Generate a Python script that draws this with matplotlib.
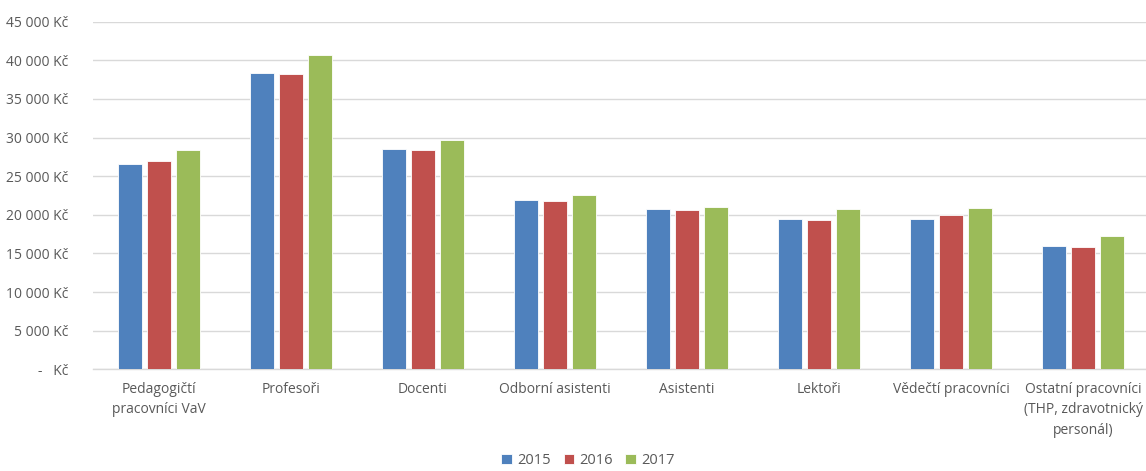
import matplotlib
matplotlib.use("Agg")
import matplotlib.pyplot as plt
import numpy as np

categories = ["Pedagogičtí\npracovníci VaV", "Profesoři", "Docenti", "Odborní asistenti",
              "Asistenti", "Lektoři", "Vědečtí pracovníci",
              "Ostatní pracovníci\n(THP, zdravotnický\npersonál)"]
years = ["2015", "2016", "2017"]
v2015 = [26540, 38360, 28480, 21920, 20750, 19420, 19460, 15960]
v2016 = [26970, 38230, 28350, 21750, 20620, 19290, 19980, 15790]
v2017 = [28390, 40690, 29650, 22530, 21050, 20710, 20880, 17260]
yticks = [0, 5000, 10000, 15000, 20000, 25000, 30000, 35000, 40000, 45000]
ytick_labels = ["-   Kč", "5 000 Kč", "10 000 Kč", "15 000 Kč", "20 000 Kč", "25 000 Kč",
                "30 000 Kč", "35 000 Kč", "40 000 Kč", "45 000 Kč"]
colors = ["#4F81BD", "#C0504D", "#9BBB59"]

plt.rcParams['font.family'] = ['Open Sans', 'DejaVu Sans']
txt = "#595959"

fig = plt.figure(figsize=(11.46, 4.71), dpi=100)
ax = fig.add_axes([93 / 1146, 1 - 369.3 / 471, 1056 / 1146, (369.3 - 21.7) / 471])

x = np.arange(len(categories))
w = 0.175
off = 0.22
for i, (vals, c, lab) in enumerate(zip([v2015, v2016, v2017], colors, years)):
    ax.bar(x + (i - 1) * off, vals, width=w, color=c, label=lab, zorder=3,
           edgecolor="white", linewidth=0.6)

ax.set_xlim(-0.5, len(categories) - 0.5)
ax.set_ylim(0, 45000)
ax.set_yticks(yticks)
ax.set_yticklabels(ytick_labels)
ax.set_xticks(x)
ax.set_xticklabels(categories, linespacing=1.5)
ax.tick_params(axis='both', length=0, colors=txt, labelsize=10)
ax.tick_params(axis='y', pad=18)
ax.tick_params(axis='x', pad=9)
ax.grid(axis='y', color="#D9D9D9", linewidth=1, zorder=0)
for s in ["top", "right", "left"]:
    ax.spines[s].set_visible(False)
ax.spines["bottom"].set_color("#D9D9D9")
ax.spines["bottom"].set_linewidth(1)

leg = fig.legend(loc="lower center", bbox_to_anchor=(0.513, -0.022), ncol=3, frameon=False,
                 fontsize=10.5, handlelength=0.75, handleheight=0.75, handletextpad=0.3,
                 columnspacing=0.9)
for t in leg.get_texts():
    t.set_color(txt)

fig.savefig("out.png", dpi=100)
